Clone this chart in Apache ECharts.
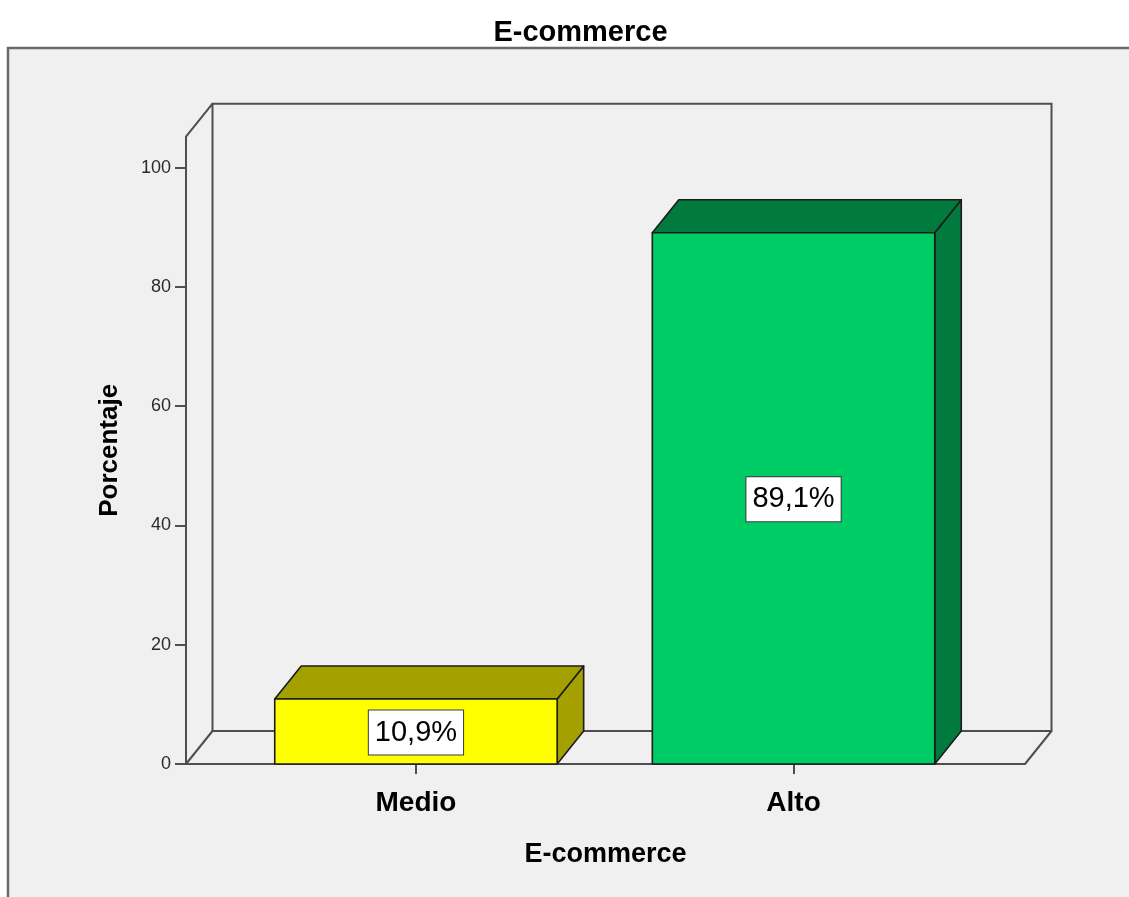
<!DOCTYPE html>
<html>
<head>
<meta charset="utf-8">
<script src="https://cdn.jsdelivr.net/npm/echarts@6/dist/echarts.min.js"></script>
<style>
html,body{margin:0;padding:0;background:#fff;}
#chart{width:1129px;height:897px;}
</style>
</head>
<body>
<div id="chart"></div>
<script>
// ---- data ----
const categories = ['Medio', 'Alto'];
const percentValues = [10.9, 89.1];
const yTickValues = [0, 20, 40, 60, 80, 100];
const chartTitle = 'E-commerce';
const xAxisTitle = 'E-commerce';
const yAxisTitle = 'Porcentaje';

// ---- styling ----
const FONT = '"Liberation Sans", Arial, sans-serif';
const DEPTH_X = 26.5, DEPTH_Y = -33;
const BAR_HALF = 0.374;
const frontColors = ['#ffff00', '#00cc66'];
const shadeColors = ['#a3a000', '#007a3d'];
const edgeColor = '#1c1c1c';
const wallColor = '#4e4e4e';

const chart = echarts.init(document.getElementById('chart'), null, {renderer: 'canvas'});

const barData = categories.map((c, i) => [i, percentValues[i]]);

function fmtPct(v) { return v.toFixed(1).replace('.', ',') + '%'; }

const option = {
  backgroundColor: '#ffffff',
  animation: false,
  title: {
    text: chartTitle,
    left: 575.5,
    top: 13,
    textAlign: 'center',
    textStyle: {fontFamily: FONT, fontWeight: 'bold', fontSize: 29, color: '#000'}
  },
  graphic: [{
    type: 'rect', z: -10,
    shape: {x: 8, y: 48, width: 1140, height: 870},
    style: {fill: '#f0f0f0', stroke: '#6a6a6a', lineWidth: 2.5}
  }],
  grid: {left: 186, right: 104, top: 136.7, bottom: 133},
  xAxis: {
    type: 'value',
    min: -0.609, max: 1.613,
    splitLine: {show: false},
    axisLine: {show: true, onZero: false, lineStyle: {color: wallColor, width: 2}},
    axisTick: {show: true, customValues: [0, 1], length: 10, lineStyle: {color: wallColor, width: 2}},
    axisLabel: {
      customValues: [0, 1],
      formatter: v => categories[Math.round(v)] || '',
      fontFamily: FONT, fontWeight: 'bold', fontSize: 28, color: '#000', margin: 25
    },
    name: xAxisTitle,
    nameLocation: 'middle',
    nameGap: 77,
    nameTextStyle: {fontFamily: FONT, fontWeight: 'bold', fontSize: 27, color: '#000'}
  },
  yAxis: {
    type: 'value',
    min: 0, max: 105.2,
    splitLine: {show: false},
    axisLine: {show: true, onZero: false, lineStyle: {color: wallColor, width: 2}},
    axisTick: {show: true, customValues: yTickValues, length: 11, lineStyle: {color: wallColor, width: 2}},
    axisLabel: {
      customValues: yTickValues,
      fontFamily: FONT, fontSize: 18, color: '#2b2b2b', margin: 15
    },
    name: yAxisTitle,
    nameLocation: 'middle',
    nameGap: 63,
    nameTextStyle: {fontFamily: FONT, fontWeight: 'bold', fontSize: 26, color: '#000'}
  },
  series: [
    {
      // 3D box walls (left wall, back wall, floor)
      type: 'custom',
      silent: true,
      clip: false,
      z: 1,
      data: [[0, 0]],
      renderItem: function (params, api) {
        const cs = params.coordSys;
        const gx = cs.x, gy = cs.y, gw = cs.width, gh = cs.height;
        const ls = {stroke: wallColor, lineWidth: 2, fill: null};
        return {
          type: 'group',
          children: [
            {type: 'line', shape: {x1: gx, y1: gy, x2: gx + DEPTH_X, y2: gy + DEPTH_Y}, style: ls},
            {type: 'rect', shape: {x: gx + DEPTH_X, y: gy + DEPTH_Y, width: gw, height: gh}, style: ls},
            {type: 'line', shape: {x1: gx, y1: gy + gh, x2: gx + DEPTH_X, y2: gy + gh + DEPTH_Y}, style: ls},
            {type: 'line', shape: {x1: gx + gw, y1: gy + gh, x2: gx + gw + DEPTH_X, y2: gy + gh + DEPTH_Y}, style: ls}
          ]
        };
      }
    },
    {
      type: 'custom',
      clip: false,
      z: 5,
      data: barData,
      encode: {x: 0, y: 1},
      renderItem: function (params, api) {
        const i = api.value(0);
        const v = api.value(1);
        const pL = api.coord([i - BAR_HALF, v]);
        const pR = api.coord([i + BAR_HALF, 0]);
        const x0 = pL[0], yt = pL[1], x1 = pR[0], yb = pR[1];
        const idx = params.dataIndex;
        const es = {stroke: edgeColor, lineWidth: 1.6, lineJoin: 'round'};
        return {
          type: 'group',
          children: [
            {type: 'polygon', shape: {points: [[x1, yt], [x1 + DEPTH_X, yt + DEPTH_Y], [x1 + DEPTH_X, yb + DEPTH_Y], [x1, yb]]},
              style: Object.assign({fill: shadeColors[idx]}, es)},
            {type: 'polygon', shape: {points: [[x0, yt], [x1, yt], [x1 + DEPTH_X, yt + DEPTH_Y], [x0 + DEPTH_X, yt + DEPTH_Y]]},
              style: Object.assign({fill: shadeColors[idx]}, es)},
            {type: 'rect', shape: {x: x0, y: yt, width: x1 - x0, height: yb - yt},
              style: Object.assign({fill: frontColors[idx]}, es)},
            {type: 'text', x: (x0 + x1) / 2, y: (yt + yb) / 2 + 1,
              style: {
                text: fmtPct(v), fill: '#000',
                font: '29px ' + FONT,
                align: 'center', verticalAlign: 'middle',
                backgroundColor: '#ffffff', borderColor: '#3a3a3a', borderWidth: 1,
                padding: [8, 6, 7, 6]
              }}
          ]
        };
      }
    }
  ]
};
chart.setOption(option);
</script>
</body>
</html>
